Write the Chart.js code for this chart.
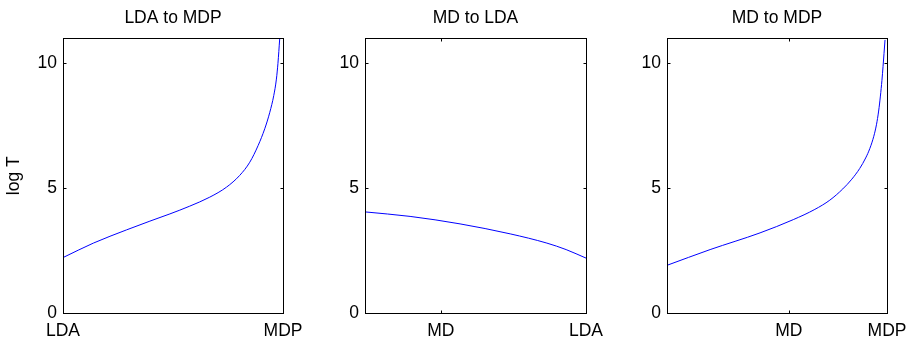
<!DOCTYPE html>
<html>
<head>
<meta charset="utf-8">
<script src="https://cdn.jsdelivr.net/npm/chart.js@4.4.1/dist/chart.umd.min.js"></script>
<style>
  body { margin: 0; background: #fff; overflow: hidden; }
  #wrap { position: relative; width: 908px; height: 342px; overflow: hidden; }
  canvas { position: absolute; top: 0; }
</style>
</head>
<body>
<div id="wrap">
  <canvas id="c1" width="311" height="342" style="left:0px"></canvas>
  <canvas id="c2" width="311" height="342" style="left:303px"></canvas>
  <canvas id="c3" width="309" height="342" style="left:606px"></canvas>
</div>
<script>
// values, x = position along the path (0 = left edge, 1 = right edge)
const titles = ["LDA to MDP", "MD to LDA", "MD to MDP"];
const yTicks = [0, 5, 10];

const ldaMdpX = [0, 0.138, 0.289, 0.395, 0.486, 0.576, 0.667, 0.743, 0.803, 0.849, 0.887, 0.917, 0.94, 0.958, 0.97, 0.977, 0.985];
const ldaMdpY = [2.22, 2.8, 3.33, 3.68, 3.97, 4.28, 4.64, 5.04, 5.51, 6.04, 6.71, 7.38, 8.04, 8.71, 9.37, 10.0, 10.98];
const ldaMdpTicks = [0, 1];
const ldaMdpLabels = ["LDA", "MDP"];

const mdLdaX = [0, 0.204, 0.43, 0.657, 0.823, 0.91, 1];
const mdLdaY = [4.05, 3.87, 3.57, 3.17, 2.8, 2.54, 2.2];
const mdLdaTicks = [0.343, 1];
const mdLdaLabels = ["MD", "LDA"];

const mdMdpX = [0, 0.196, 0.423, 0.574, 0.672, 0.74, 0.799, 0.84, 0.876, 0.903, 0.922, 0.94, 0.952, 0.962, 0.97, 0.977, 0.982, 0.991];
const mdMdpY = [1.91, 2.54, 3.21, 3.74, 4.15, 4.52, 4.97, 5.36, 5.79, 6.21, 6.59, 7.08, 7.54, 8.09, 8.69, 9.32, 9.87, 10.94];
const mdMdpTicks = [0.554, 1];
const mdMdpLabels = ["MD", "MDP"];

const FONT = "'Liberation Sans', Arial, Helvetica, sans-serif";
const SIZE = 17.5;

// matlab style box with inward ticks on all four sides
const frameTicks = {
  id: "frameTicks",
  afterDraw(chart) {
    const { ctx, chartArea: a, scales } = chart;
    const L = Math.round(a.left) + 0.5, R = Math.round(a.right) + 0.5;
    const T = Math.round(a.top) + 0.5, B = Math.round(a.bottom) + 0.5;
    const len = 3;
    ctx.save();
    ctx.strokeStyle = "#000";
    ctx.lineWidth = 1;
    ctx.strokeRect(L, T, R - L, B - T);
    ctx.beginPath();
    scales.x.ticks.forEach(t => {
      const px = Math.round(scales.x.getPixelForValue(t.value)) + 0.5;
      ctx.moveTo(px, B); ctx.lineTo(px, B - len);
      ctx.moveTo(px, T); ctx.lineTo(px, T + len);
    });
    scales.y.ticks.forEach(t => {
      const py = Math.round(scales.y.getPixelForValue(t.value)) + 0.5;
      ctx.moveTo(L, py); ctx.lineTo(L + len, py);
      ctx.moveTo(R, py); ctx.lineTo(R - len, py);
    });
    ctx.stroke();
    ctx.restore();
  }
};

function makePanel(id, title, xs, ys, xTicks, xLabels, yWidth, padRight, showYTitle) {
  const ctx = document.getElementById(id).getContext("2d");
  return new Chart(ctx, {
    type: "line",
    data: {
      datasets: [{
        data: xs.map((x, i) => ({ x: x, y: ys[i] })),
        xAxisID: "x",
        borderColor: "#0000ff",
        borderWidth: 1,
        pointRadius: 0,
        fill: false,
        cubicInterpolationMode: "monotone"
      }]
    },
    options: {
      responsive: false,
      animation: false,
      devicePixelRatio: 1,
      layout: { padding: { left: 0, right: padRight, top: 0, bottom: 0 } },
      plugins: {
        legend: { display: false },
        tooltip: { enabled: false }
      },
      scales: {
        x: {
          type: "linear",
          min: 0,
          max: 1,
          grid: { display: false, drawTicks: false },
          border: { display: false },
          afterBuildTicks: s => { s.ticks = xTicks.map(v => ({ value: v })); },
          afterFit: s => { s.height = 29; },
          ticks: {
            color: "#000",
            font: { family: FONT, size: SIZE },
            padding: 8,
            maxRotation: 0,
            autoSkip: false,
            callback: (v, i) => xLabels[i]
          }
        },
        // top axis only carries the panel title, centred over the plot box
        top: {
          type: "linear",
          position: "top",
          min: 0,
          max: 1,
          grid: { display: false, drawTicks: false },
          border: { display: false },
          ticks: { display: false },
          afterFit: s => { s.height = 38.4; },
          title: {
            display: true,
            text: title,
            color: "#000",
            font: { family: FONT, size: SIZE },
            padding: { top: 8, bottom: 0 }
          }
        },
        y: {
          min: 0,
          max: 11,
          grid: { display: false, drawTicks: false },
          border: { display: false },
          afterBuildTicks: s => { s.ticks = yTicks.map(v => ({ value: v })); },
          afterFit: s => { s.width = yWidth; },
          ticks: {
            color: "#000",
            font: { family: FONT, size: SIZE },
            padding: 6,
            callback: v => v
          },
          title: {
            display: showYTitle,
            text: "log T",
            color: "#000",
            font: { family: FONT, size: SIZE },
            padding: { top: 4, bottom: 0 }
          }
        }
      }
    },
    plugins: [frameTicks]
  });
}

makePanel("c1", titles[0], ldaMdpX, ldaMdpY, ldaMdpTicks, ldaMdpLabels, 63, 28, true);
makePanel("c2", titles[1], mdLdaX, mdLdaY, mdLdaTicks, mdLdaLabels, 62, 28, false);
makePanel("c3", titles[2], mdMdpX, mdMdpY, mdMdpTicks, mdMdpLabels, 61, 28, false);
</script>
</body>
</html>
